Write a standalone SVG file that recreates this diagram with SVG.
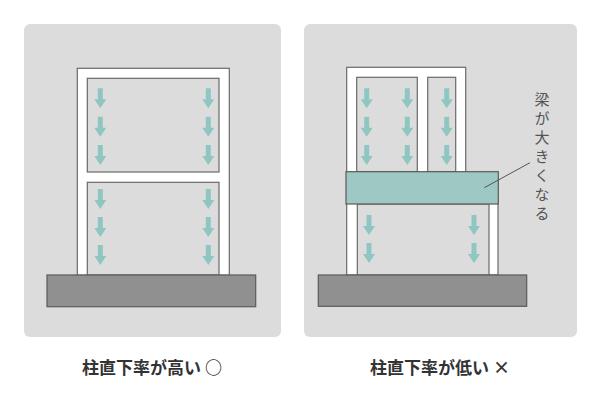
<svg xmlns="http://www.w3.org/2000/svg" xmlns:xlink="http://www.w3.org/1999/xlink" width="600" height="400" viewBox="0 0 600 400">
<style>
.panel{fill:#dcdcdc}
.fr{fill:#fff;stroke:#6a6a6a;stroke-width:1.2}
.op{fill:#dcdcdc;stroke:#6a6a6a;stroke-width:1.2}
.base{fill:#909090;stroke:#5a5a5a;stroke-width:1.2}
.beam{fill:#9dc8c4;stroke:#5a5a5a;stroke-width:1.2}
.ar{fill:#8fc6c2}
.lbl{font-family:"Noto Sans CJK JP",sans-serif;font-size:17px;font-weight:bold;fill:#333}
.vt{font-family:"Noto Sans CJK JP",sans-serif;font-size:15px;letter-spacing:4px;fill:#555}
</style>
<defs>
<path id="a" class="ar" d="M-2.5,0 H2.5 V11 H6 L0,20 L-6,11 H-2.5 Z"/>
</defs>
<g id="left">
<rect class="panel" x="24" y="24" width="257" height="313" rx="6"/>
<rect class="fr" x="77.3" y="68.3" width="152" height="207"/>
<rect class="op" x="87.3" y="78.3" width="131.7" height="93.7"/>
<rect class="op" x="87.3" y="182.3" width="131.7" height="92.7"/>
<rect class="base" x="47" y="275" width="208.7" height="31.7"/>
<g>
<use xlink:href="#a" x="100.3" y="88.3"/><use xlink:href="#a" x="100.3" y="116.7"/><use xlink:href="#a" x="100.3" y="145"/>
<use xlink:href="#a" x="208.3" y="88.3"/><use xlink:href="#a" x="208.3" y="116.7"/><use xlink:href="#a" x="208.3" y="145"/>
<use xlink:href="#a" x="100.3" y="189"/><use xlink:href="#a" x="100.3" y="217"/><use xlink:href="#a" x="100.3" y="245"/>
<use xlink:href="#a" x="208.3" y="189"/><use xlink:href="#a" x="208.3" y="217"/><use xlink:href="#a" x="208.3" y="245"/>
</g>
<text class="lbl" x="152" y="374" text-anchor="middle">柱直下率が高い ○</text>
</g>
<g id="right">
<rect class="panel" x="304" y="24" width="273" height="313" rx="6"/>
<rect class="fr" x="346.7" y="67.3" width="119" height="108"/>
<rect class="op" x="356.7" y="77.3" width="60.6" height="94.4"/>
<rect class="op" x="427.7" y="77.3" width="28" height="94.4"/>
<rect class="fr" x="346.7" y="200" width="151.3" height="75"/>
<rect class="op" x="357.3" y="204" width="131.7" height="71"/>
<rect class="beam" x="346" y="171.7" width="152.3" height="32.3"/>
<rect class="base" x="318.3" y="275" width="208.4" height="31.3"/>
<g>
<use xlink:href="#a" x="366.7" y="88.3"/><use xlink:href="#a" x="366.7" y="116.7"/><use xlink:href="#a" x="366.7" y="145"/>
<use xlink:href="#a" x="407.3" y="88.3"/><use xlink:href="#a" x="407.3" y="116.7"/><use xlink:href="#a" x="407.3" y="145"/>
<use xlink:href="#a" x="446.7" y="88.3"/><use xlink:href="#a" x="446.7" y="116.7"/><use xlink:href="#a" x="446.7" y="145"/>
<use xlink:href="#a" x="369" y="215"/><use xlink:href="#a" x="369" y="243"/>
<use xlink:href="#a" x="474" y="215"/><use xlink:href="#a" x="474" y="243"/>
</g>
<text class="vt" x="542" y="92" style="writing-mode:vertical-rl" text-anchor="start" dominant-baseline="central">梁が大きくなる</text>
<text class="lbl" x="440" y="374" text-anchor="middle">柱直下率が低い ×</text>
</g>
<g id="connectors">
<line x1="484.3" y1="187.7" x2="530" y2="162.7" stroke="#555" stroke-width="1"/>
</g>
</svg>
